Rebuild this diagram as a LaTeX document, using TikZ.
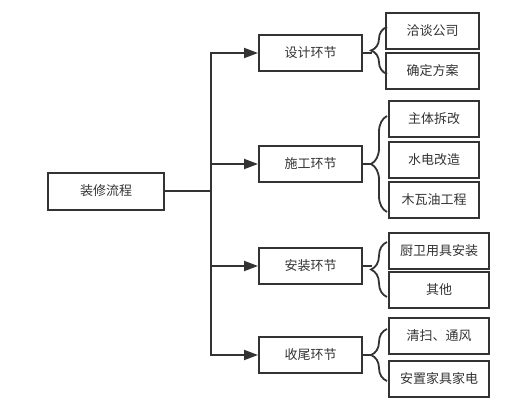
\documentclass[tikz,border=0pt]{standalone}
\usepackage{fontspec}
\setmainfont{Noto Sans CJK SC}
\usetikzlibrary{arrows.meta,decorations.pathreplacing}
\definecolor{ink}{HTML}{333333}
\begin{document}
\begin{tikzpicture}[x=1pt,y=-1pt,
    box/.style={draw=ink,line width=2pt,text=ink,inner sep=0pt,
      minimum height=36pt,font=\fontsize{13}{15}\selectfont},
    stage/.style={box,minimum width=103pt},
    leaf/.style={box,minimum width=93pt},
    wideleaf/.style={box,minimum width=100pt},
    link/.style={draw=ink,line width=2pt},
    arr/.style={link,-{Triangle[length=14pt,width=10pt]}},
    grp/.style={link,line width=1.8pt,decorate,decoration={brace,amplitude=16pt}}]
  \useasboundingbox (0,0) rectangle (524,409);
  % Root
  \node[box,minimum width=116pt,minimum height=37pt] (root) at (106,191) {装修流程};
  % Stages
  \node[stage] (design) at (310.5,53) {设计环节};
  \node[stage] (build) at (310.5,164) {施工环节};
  \node[stage] (install) at (310.5,266) {安装环节};
  \node[stage] (finish) at (310.5,355) {收尾环节};
  % Trunk and arrows
  \coordinate (trunk) at (211,191);
  \draw[link] (root.east) -- (trunk);
  \draw[arr] (trunk) |- (design.west);
  \draw[arr] (trunk) |- (build.west);
  \draw[arr] (trunk) |- (install.west);
  \draw[arr] (trunk) |- (finish.west);
  % Design items
  \node[leaf] (talk) at (432.5,31) {洽谈公司};
  \node[leaf] (plan) at (432.5,71) {确定方案};
  % Build items
  \node[leaf,minimum width=90pt] (demo) at (434,119) {主体拆改};
  \node[leaf,minimum width=90pt] (pipe) at (434,160) {水电改造};
  \node[leaf,minimum width=90pt] (wood) at (434,200) {木瓦油工程};
  % Install items
  \node[wideleaf] (kitchen) at (439,251) {厨卫用具安装};
  \node[wideleaf] (other) at (439,290) {其他};
  % Finish items
  \node[wideleaf] (clean) at (439,336) {清扫、通风};
  \node[wideleaf] (furn) at (439,378.5) {安置家具家电};
  % Braces
  \coordinate (b1a) at (387,74);  \coordinate (b1b) at (387,27);
  \coordinate (b2a) at (387,212); \coordinate (b2b) at (387,116);
  \coordinate (b3a) at (387,297); \coordinate (b3b) at (387,242);
  \coordinate (b4a) at (387,381); \coordinate (b4b) at (387,329);
  \draw[grp] (b1a) -- (b1b);
  \draw[grp] (b2a) -- (b2b);
  \draw[grp] (b3a) -- (b3b);
  \draw[grp] (b4a) -- (b4b);
  \draw[link] (design.east) -- ++(9,0);
  \draw[link] (build.east) -- ++(9,0);
  \draw[link] (install.east) -- ++(9,0);
  \draw[link] (finish.east) -- ++(9,0);
\end{tikzpicture}
\end{document}
